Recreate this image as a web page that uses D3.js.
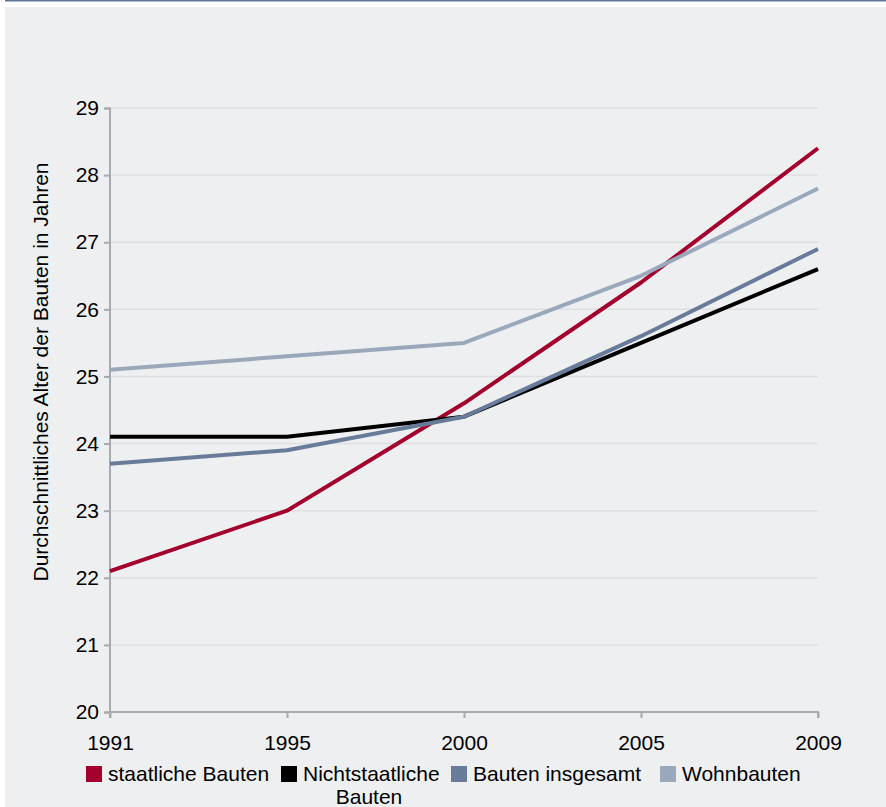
<!DOCTYPE html>
<html>
<head>
<meta charset="utf-8">
<script src="https://cdn.jsdelivr.net/npm/d3@7"></script>
<style>
  html, body { margin: 0; padding: 0; background: #fff; }
  svg { display: block; font-family: "Liberation Sans", Arial, sans-serif; }
</style>
</head>
<body>
<div id="chart"></div>
<script>
const years = ['1991', '1995', '2000', '2005', '2009'];
const staatlich = [22.1, 23.0, 24.6, 26.4, 28.4];
const nichtstaatlich = [24.1, 24.1, 24.4, 25.5, 26.6];
const insgesamt = [23.7, 23.9, 24.4, 25.6, 26.9];
const wohnbauten = [25.1, 25.3, 25.5, 26.5, 27.8];
const yTicks = [20, 21, 22, 23, 24, 25, 26, 27, 28, 29];
const seriesNames = ['staatliche Bauten', 'Nichtstaatliche Bauten', 'Bauten insgesamt', 'Wohnbauten'];
const seriesColors = ['#a3002d', '#000000', '#687c99', '#9aa8bb'];

const W = 886, H = 807;
const fs = '21px';
const svg = d3.select('#chart').append('svg').attr('width', W).attr('height', H);

// panel + top rule
svg.append('rect').attr('x', 5).attr('y', 7).attr('width', W - 5).attr('height', H - 7).attr('fill', '#eeeff1');
svg.append('line').attr('x1', 5).attr('x2', W).attr('y1', 0.75).attr('y2', 0.75)
  .attr('stroke', '#5b7494').attr('stroke-width', 1.5);

const x = d3.scalePoint().domain(years).range([110, 818]);
const y = d3.scaleLinear().domain([20, 29]).range([712, 108]);

const series = [staatlich, nichtstaatlich, insgesamt, wohnbauten];

// grid
svg.append('g').selectAll('line').data(yTicks.filter(t => t > 20)).join('line')
  .attr('x1', 110).attr('x2', 818)
  .attr('y1', d => y(d)).attr('y2', d => y(d))
  .attr('stroke', '#dedfe1').attr('stroke-width', 1.5);

const axisColor = '#a7aaae';

const yAxis = svg.append('g').attr('transform', 'translate(110,0)')
  .call(d3.axisLeft(y).tickValues(yTicks).tickSize(6).tickPadding(5).tickFormat(d3.format('d')));
const xAxis = svg.append('g').attr('transform', 'translate(0,712)')
  .call(d3.axisBottom(x).tickSize(6).tickPadding(17));

[yAxis, xAxis].forEach(a => {
  a.attr('font-size', null).attr('font-family', null);
  a.select('.domain').attr('stroke', axisColor).attr('stroke-width', 2);
  a.selectAll('.tick line').attr('stroke', axisColor).attr('stroke-width', 2);
  a.selectAll('.tick text').attr('fill', '#000').style('font-size', fs);
});
yAxis.select('.domain').attr('d', 'M-6,108.5H0V712.5H-6');
xAxis.select('.domain').attr('d', 'M110,6V0H818V6');

svg.append('text')
  .attr('transform', 'translate(48,372) rotate(-90)')
  .attr('text-anchor', 'middle')
  .style('font-size', fs)
  .text('Durchschnittliches Alter der Bauten in Jahren');

const line = d3.line().x((d, i) => x(years[i])).y(d => y(d));
svg.append('g').selectAll('path').data(series).join('path')
  .attr('d', line)
  .attr('fill', 'none')
  .attr('stroke', (d, i) => seriesColors[i])
  .attr('stroke-width', 4)
  .attr('stroke-linejoin', 'round');

// legend
const legendX = [86, 281, 451, 660];
const lg = svg.append('g').attr('transform', 'translate(0,766)');
seriesNames.forEach((name, i) => {
  const g = lg.append('g').attr('transform', `translate(${legendX[i]},0)`);
  g.append('rect').attr('width', 16).attr('height', 16).attr('fill', seriesColors[i]);
  const t = g.append('text').attr('x', 22).attr('y', 15).style('font-size', fs);
  if (i === 1) {
    t.text('Nichtstaatliche');
    g.append('text').attr('x', 88).attr('y', 38).attr('text-anchor', 'middle')
      .style('font-size', fs).text('Bauten');
  } else {
    t.text(name);
  }
});
</script>
</body>
</html>
